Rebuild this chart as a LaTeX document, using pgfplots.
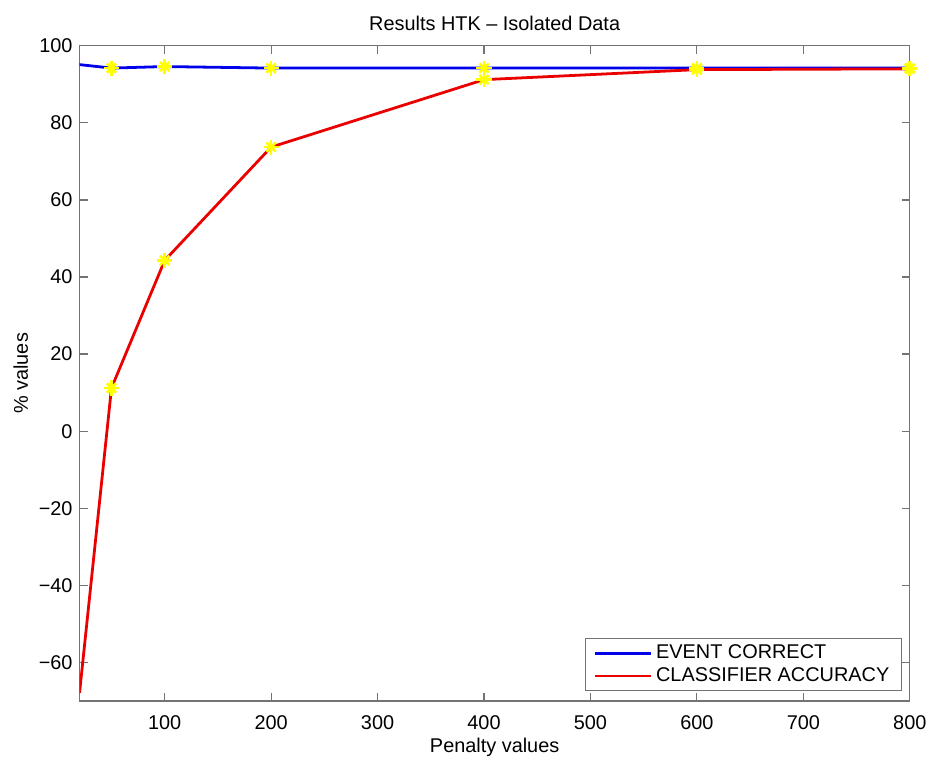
\documentclass[border=0pt]{standalone}
\usepackage{pgfplots}
\pgfplotsset{compat=1.18}
\usepackage{fontspec}
\setmainfont{Liberation Sans}

\definecolor{mblue}{RGB}{0,0,235}
\definecolor{mred}{RGB}{235,0,0}
\definecolor{myellow}{RGB}{255,255,0}

\pgfplotsset{
  star plus/.style={only marks, forget plot, mark=+, mark size=3.8pt, myellow,
    mark options={line width=1.3pt}},
  star cross/.style={only marks, forget plot, mark=x, mark size=3.3pt, myellow,
    mark options={line width=1.3pt}},
}

\begin{document}
\begin{tikzpicture}
\begin{axis}[
  name=ax,
  scale only axis,
  width=417.5pt, height=329.5pt,
  xmin=20, xmax=800, ymin=-70, ymax=100,
  xtick={100,200,...,800},
  ytick={-60,-40,...,100},
  yticklabels={−60,−40,−20,0,20,40,60,80,100},
  /pgf/number format/assume math mode=true,
  tick align=inside,
  major tick length=4pt,
  axis line style={draw=black!55, line width=0.6pt},
  every tick/.style={draw=black!55, line width=0.6pt},
  tick label style={font=\fontsize{10}{12}\selectfont},
  xticklabel style={yshift=-4pt},
  label style={font=\fontsize{10}{12}\selectfont},
  title style={font=\fontsize{10}{12}\selectfont, yshift=-2pt},
  title={Results HTK -- Isolated Data},
  xlabel={Penalty values},
  ylabel={\% values},
  xlabel style={yshift=3pt},
  ylabel style={yshift=-1.5pt},
  legend style={at={(1,0)}, anchor=south east, xshift=-4pt, yshift=5pt,
    draw=black!55, line width=0.6pt, font=\fontsize{10}{12}\selectfont,
    inner xsep=4pt, inner ysep=1pt, row sep=-1pt},
  legend cell align=left,
  legend image code/.code={\draw[#1, line width=1.4pt] (0pt,0pt) -- (28pt,0pt);},
]
% event correct
\addplot[mblue, line width=1.4pt] coordinates {
  (20,95.1) (50,94.2) (100,94.6) (200,94.2) (400,94.2) (600,94.2) (800,94.2)
};
\addlegendentry{EVENT CORRECT}
% classifier accuracy
\addplot[mred, line width=1.4pt] coordinates {
  (20,-67.9) (50,11.2) (100,44.3) (200,73.7) (400,91.2) (600,93.8) (800,94.0)
};
\addlegendentry{CLASSIFIER ACCURACY}
% asterisk markers (plus and cross overlaid) on both series
\addplot[star plus] coordinates {
  (50,94.2) (100,94.6) (200,94.2) (400,94.2) (600,94.2) (800,94.2)
};
\addplot[star cross] coordinates {
  (50,94.2) (100,94.6) (200,94.2) (400,94.2) (600,94.2) (800,94.2)
};
\addplot[star plus] coordinates {
  (50,11.2) (100,44.3) (200,73.7) (400,91.2) (600,93.8) (800,94.0)
};
\addplot[star cross] coordinates {
  (50,11.2) (100,44.3) (200,73.7) (400,91.2) (600,93.8) (800,94.0)
};
\end{axis}
\path[use as bounding box] ([shift={(-40pt,-25.5pt)}]ax.south west) rectangle ([shift={(9pt,23pt)}]ax.north east);
\end{tikzpicture}
\end{document}
